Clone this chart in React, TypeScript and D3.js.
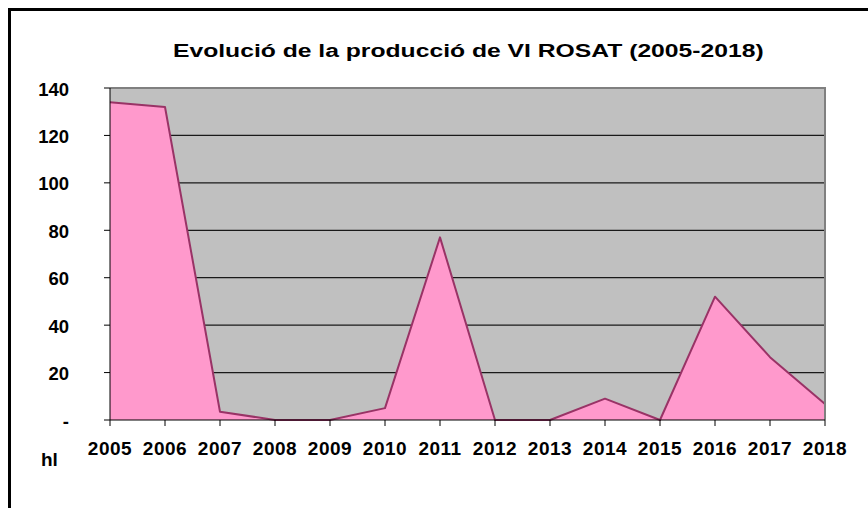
import React from 'react';
import * as d3 from 'd3';

const years = ['2005', '2006', '2007', '2008', '2009', '2010', '2011', '2012', '2013', '2014', '2015', '2016', '2017', '2018'];
const production = [134, 132, 3.5, 0, 0, 5, 77, 0, 0, 9, 0, 52, 26.5, 6.7];
const yTicks = [0, 20, 40, 60, 80, 100, 120, 140];
const yTickLabels = ['-', '20', '40', '60', '80', '100', '120', '140'];

const W = 868;
const H = 508;
const plot = { left: 110, right: 825, top: 88, bottom: 420 };

const App = () => {
  const x = d3.scalePoint<string>().domain(years).range([plot.left, plot.right]);
  const y = d3.scaleLinear().domain([0, 140]).range([plot.bottom, plot.top]);

  const pts = years.map((yr, i) => ({ yr, v: production[i] }));
  const area = d3.area<{ yr: string; v: number }>()
    .x(d => x(d.yr)!)
    .y0(y(0))
    .y1(d => y(d.v));
  const line = d3.line<{ yr: string; v: number }>()
    .x(d => x(d.yr)!)
    .y(d => y(d.v));

  const font = 'Arial, "Liberation Sans", sans-serif';

  return (
    <svg width={W} height={H} style={{ position: 'absolute', left: 0, top: 0 }}>
      <rect x={0} y={0} width={W} height={H} fill="white" />
      {/* outer frame */}
      <path d={`M9.5,${H} V9.5 H${W}`} fill="none" stroke="black" strokeWidth={3} />

      {/* title is wider than plain Arial in the source, so stretch it */}
      <g transform="translate(173,57) scale(1.3,1)">
        <text x={0} y={0} fontFamily={font} fontWeight="bold" fontSize={19} fill="black">
          Evolució de la producció de VI ROSAT (2005-2018)
        </text>
      </g>

      {/* plot background */}
      <rect x={plot.left} y={plot.top} width={plot.right - plot.left} height={plot.bottom - plot.top} fill="#C0C0C0" />

      {/* gridlines */}
      {yTicks.filter(t => t > 0 && t < 140).map(t => (
        <line key={t} x1={plot.left} x2={plot.right} y1={y(t)} y2={y(t)} stroke="#1a1a1a" strokeWidth={1.2} />
      ))}

      <path d={area(pts)!} fill="#FF99CC" />
      <path d={line(pts)!} fill="none" stroke="#993366" strokeWidth={2} strokeLinejoin="round" />

      {/* plot border top/right */}
      <path d={`M${plot.left},${plot.top} H${plot.right} V${plot.bottom}`} fill="none" stroke="#808080" strokeWidth={2} />

      {/* axes */}
      <line x1={plot.left} x2={plot.left} y1={plot.top} y2={plot.bottom} stroke="black" strokeWidth={1} />
      <line x1={plot.left} x2={plot.right} y1={plot.bottom} y2={plot.bottom} stroke="black" strokeWidth={1} />

      {yTicks.map((t, i) => (
        <g key={t}>
          <line x1={plot.left - 6} x2={plot.left} y1={y(t)} y2={y(t)} stroke="black" />
          <text x={69} y={y(t) + 7.5} textAnchor="end" fontFamily={font} fontWeight="bold" fontSize={18.5} fill="black">
            {yTickLabels[i]}
          </text>
        </g>
      ))}

      {years.map(yr => (
        <g key={yr}>
          <line x1={x(yr)!} x2={x(yr)!} y1={plot.bottom} y2={plot.bottom + 6} stroke="black" />
          <text x={x(yr)!} y={455} textAnchor="middle" fontFamily={font} fontWeight="bold" fontSize={19} letterSpacing={0.5} fill="black">
            {yr}
          </text>
        </g>
      ))}

      <text x={41} y={466} fontFamily={font} fontWeight="bold" fontSize={19} fill="black">hl</text>
    </svg>
  );
};

export default App;
